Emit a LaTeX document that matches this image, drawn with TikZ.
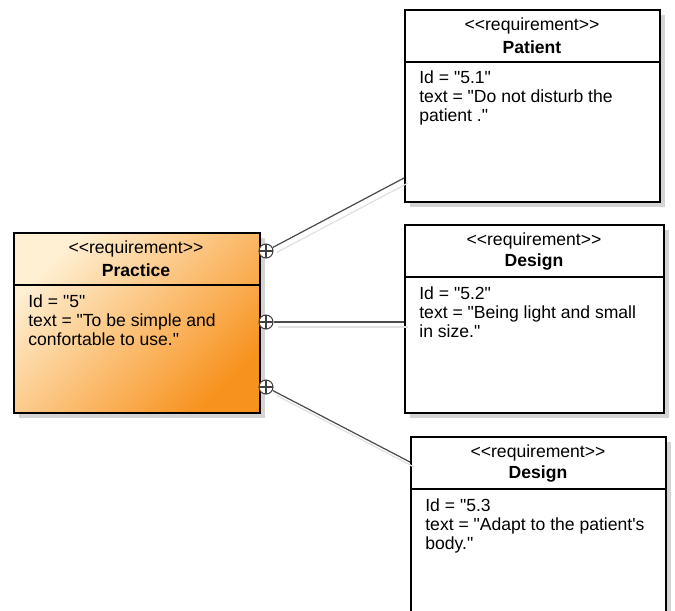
\documentclass[tikz,border=0pt]{standalone}
\usepackage{fontspec}
\setmainfont{Liberation Sans}[Ligatures=TeXOff]
\usepackage{tikz}
\definecolor{pracLight}{RGB}{255,240,212}
\definecolor{pracMid}{RGB}{251,190,115}
\definecolor{pracDark}{RGB}{247,146,30}

\begin{document}
\begin{tikzpicture}[x=0.02cm,y=-0.02cm]
        \tikzstyle{every node} = [inner sep=0pt, font=\fontsize{10}{11}\selectfont]
        \tikzstyle{reqbox} = [rectangle, draw=black, line width=1.3pt, anchor=north west]
        \tikzstyle{boxshadow} = [rectangle, fill=black!17, anchor=north west]
        \tikzstyle{body} = [anchor=north west, align=left]
        \tikzstyle{own} = [circle, draw=black!75, fill=white, line width=0.6pt, minimum size=0.28cm,
            path picture={\draw[black!75, line width=0.6pt]
                (path picture bounding box.north) -- (path picture bounding box.south)
                (path picture bounding box.west) -- (path picture bounding box.east);}]
        \tikzstyle{link} = [draw=black!70, line width=0.7pt]
        \useasboundingbox (0,0) rectangle (675,610);
        \clip (0,0) rectangle (675,610);
        % shadows
        \node[boxshadow, minimum width=4.92cm, minimum height=3.6cm] at (19,238) {};
        \node[boxshadow, minimum width=5.1cm, minimum height=3.84cm] at (410,15) {};
        \node[boxshadow, minimum width=5.18cm, minimum height=3.76cm] at (410,230) {};
        \node[boxshadow, minimum width=5.1cm, minimum height=4.2cm] at (416,442) {};
        % blocks
        \node[reqbox, minimum width=4.92cm, minimum height=3.6cm,
              top color=pracLight, middle color=pracMid, bottom color=pracDark, shading angle=45] (prac) at (13,232) {};
        \node[reqbox, fill=white, minimum width=5.1cm, minimum height=3.84cm] (pat) at (404,9) {};
        \node[reqbox, fill=white, minimum width=5.18cm, minimum height=3.76cm] (desa) at (404,224) {};
        \node[reqbox, fill=white, minimum width=5.1cm, minimum height=4.2cm] (desb) at (410,436) {};
        \draw[line width=0.6pt] (13,285) -- (259,285);
        \draw[line width=0.6pt] (404,62) -- (659,62);
        \draw[line width=0.6pt] (404,277) -- (663,277);
        \draw[line width=0.6pt] (410,489) -- (665,489);
        % headers
        \node (pracst) at (136,249) {<<requirement>>};
        \node (pracnm) at (136,270) {\textbf{Practice}};
        \node (patst) at (532,26) {<<requirement>>};
        \node (patnm) at (532,47) {\textbf{Patient}};
        \node (desast) at (534,241) {<<requirement>>};
        \node (desanm) at (534,262) {\textbf{Design}};
        \node (desbst) at (538,453) {<<requirement>>};
        \node (desbnm) at (538,474) {\textbf{Design}};
        % properties
        \node[body] (pracbd) at (28,294) {Id = "5"\\text = "To be simple and\\confortable to use."};
        \node[body] (patbd) at (419,70) {Id = "5.1"\\text = "Do not disturb the\\patient ."};
        \node[body] (desabd) at (419,286) {Id = "5.2"\\text = "Being light and small\\in size."};
        \node[body] (desbbd) at (425,498) {Id = "5.3\\text = "Adapt to the patient's\\body."};
        % containment
        \node[own] (own1) at (266,251) {};
        \node[own] (own2) at (266,322) {};
        \node[own] (own3) at (266,387) {};
        \coordinate (patin) at (404,178);
        \coordinate (desain) at (404,322);
        \coordinate (desbin) at (410,462);
        \foreach \from/\to in {own1/patin, own2/desain, own3/desbin}
            \draw[draw=black!12, line width=0.7pt, transform canvas={shift={(0.08cm,-0.1cm)}}] (\from) -- (\to);
        \foreach \from/\to in {own1/patin, own2/desain, own3/desbin}
            \draw[link] (\from) -- (\to);
    \end{tikzpicture}
\end{document}
